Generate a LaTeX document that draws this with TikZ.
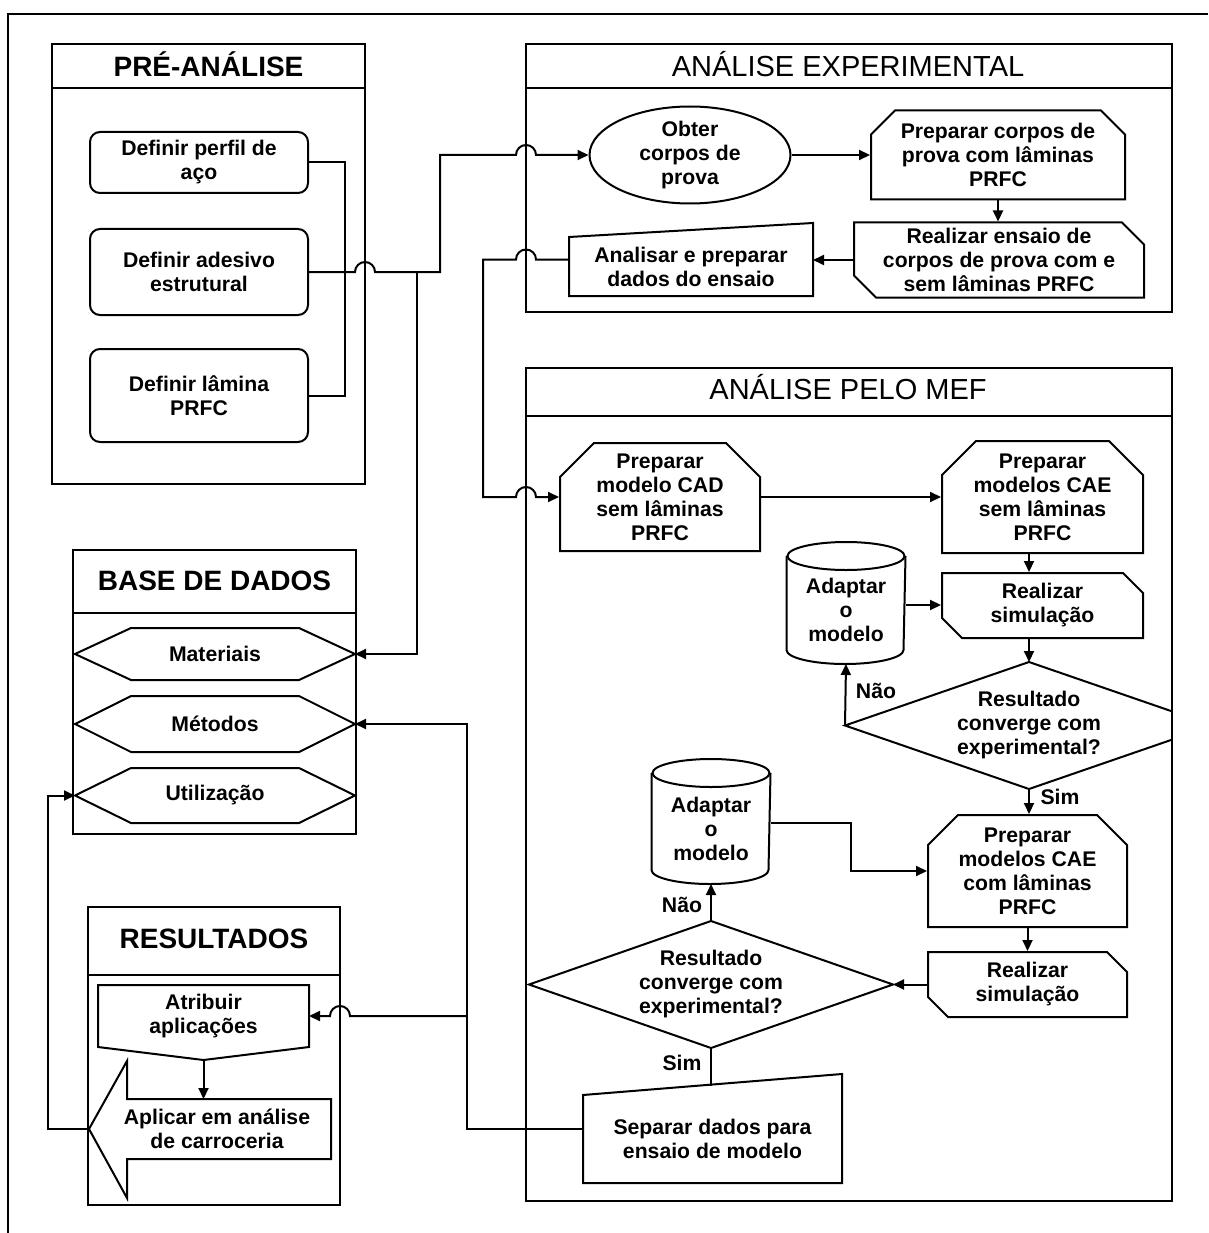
\documentclass[tikz,border=0pt]{standalone}
\usepackage{fontspec}
\setmainfont{Liberation Sans}
\usetikzlibrary{arrows.meta,shapes.misc}

\begin{document}
\begin{tikzpicture}[x=1pt,y=-1pt,line width=2pt,
  txt/.style={font=\bfseries\fontsize{21.2}{24}\selectfont,align=center,inner sep=0pt},
  ttl/.style={font=\fontsize{29}{32}\selectfont,anchor=base},
  panel/.style={draw,inner sep=0pt},
  proc/.style={txt,draw,rounded corners=10pt},
  prep/.style={txt,draw,chamfered rectangle,chamfered rectangle corners={north west,north east},chamfered rectangle sep=#1,inner ysep=-#1},
  run/.style={txt,draw,chamfered rectangle,chamfered rectangle corners={north east,south west},chamfered rectangle sep=#1,inner ysep=-#1},
  arr/.style={-{Triangle[length=11pt,width=10pt]}}]
\useasboundingbox (0,0) rectangle (1208,1233);
\draw (8,1233) -- (8,14) -- (1208,14);

\node[panel,minimum width=313,minimum height=440] (pre) at (208.5,264) {};
\node[panel,minimum width=646,minimum height=268] (exp) at (849,178) {};
\node[panel,minimum width=646,minimum height=833] (mef) at (849,784.5) {};
\node[panel,minimum width=283,minimum height=284] (base) at (214.5,692) {};
\node[panel,minimum width=252,minimum height=298] (res) at (214,1056) {};
\draw ([yshift=-45pt]pre.north west) -- ([yshift=-45pt]pre.north east);
\draw ([yshift=-45pt]exp.north west) -- ([yshift=-45pt]exp.north east);
\draw ([yshift=-49pt]mef.north west) -- ([yshift=-49pt]mef.north east);
\draw ([yshift=-64pt]base.north west) -- ([yshift=-64pt]base.north east);
\draw ([yshift=-69pt]res.north west) -- ([yshift=-69pt]res.north east);
\node[ttl,font=\bfseries\fontsize{28}{32}\selectfont] (preT) at (208.5,77) {PRÉ-ANÁLISE};
\node[ttl] (expT) at (848,77) {ANÁLISE EXPERIMENTAL};
\node[ttl] (mefT) at (848,399) {ANÁLISE PELO MEF};
\node[ttl,font=\bfseries\fontsize{28}{32}\selectfont] (baseT) at (214.5,590) {BASE DE DADOS};
\node[ttl,font=\bfseries\fontsize{28}{32}\selectfont] (resT) at (214,948) {RESULTADOS};

\node[proc,minimum width=218,minimum height=61] (perfil) at (199,162.5) {Definir perfil de\\aço};
\node[proc,minimum width=218,minimum height=86] (adesivo) at (199,272) {Definir adesivo\\estrutural};
\node[proc,minimum width=218,minimum height=93] (lamina) at (199,395.5) {Definir lâmina\\PRFC};

\node[txt,minimum width=201,minimum height=97] (obter) at (690,155) {Obter\\corpos de\\prova};
\draw (obter.center) ellipse[x radius=100.5pt,y radius=48.5pt];
\node[prep=12pt,minimum width=254,minimum height=89] (corpos) at (998,155) {Preparar corpos de\\prova com lâminas\\PRFC};
\node[run=11pt,minimum width=290,minimum height=75] (ensaio) at (999,260) {Realizar ensaio de\\corpos de prova com e\\sem lâminas PRFC};
\node[txt,minimum width=242,minimum height=57] (analisar) at (691,266.5) {Analisar e preparar\\dados do ensaio};
\draw (analisar.south west) -- (analisar.north west) -- ([yshift=14pt]analisar.north east) -- (analisar.south east) -- cycle;

\node[prep=17pt,minimum width=200,minimum height=108] (cad) at (660,497) {Preparar\\modelo CAD\\sem lâminas\\PRFC};
\node[prep=17pt,minimum width=201,minimum height=112] (caesem) at (1042.5,497) {Preparar\\modelos CAE\\sem lâminas\\PRFC};
\node[run=10pt,minimum width=201,minimum height=65] (sim1) at (1042.5,605.5) {Realizar\\simulação};
\node[txt,minimum width=117,minimum height=106] (ad1) at (846,610) {Adaptar\\o\\modelo};
\node[txt,minimum width=366,minimum height=125] (d1) at (1029,725.5) {Resultado\\converge com\\experimental?};
\node[txt,minimum width=117,minimum height=109] (ad2) at (711,828.5) {Adaptar\\o\\modelo};
\node[prep=15pt,minimum width=199,minimum height=112] (caecom) at (1027.5,871) {Preparar\\modelos CAE\\com lâminas\\PRFC};
\node[run=10pt,minimum width=199,minimum height=65] (sim2) at (1027.5,984.5) {Realizar\\simulação};
\node[txt,minimum width=362,minimum height=125] (d2) at (711,984.5) {Resultado\\converge com\\experimental?};
\node[txt,minimum width=257,minimum height=86] (separar) at (712.5,1139) {Separar dados para\\ensaio de modelo};
\draw (separar.south west) -- (separar.north west) -- ([yshift=21pt]separar.north east) -- (separar.south east) -- cycle;
\coordinate (septop) at (711,1086);
\node[txt] (nao1) at (876,691) {Não};
\node[txt] (sim1l) at (1060,797) {Sim};
\node[txt] (nao2) at (682,905) {Não};
\node[txt] (sim2l) at (682,1063) {Sim};

\begin{scope}
\clip (0,0) rectangle (1172,1233);
\draw (d1.north) -- (d1.west) -- (d1.south) -- (d1.east) -- cycle;
\end{scope}
\draw (d2.north) -- (d2.west) -- (d2.south) -- (d2.east) -- cycle;
\foreach \c in {ad1,ad2} {
  \draw (\c.north west) -- ([yshift=14pt]\c.south west) arc[start angle=180,end angle=360,x radius=58.5pt,y radius=14pt] -- (\c.north east);
  \draw (\c.north) ellipse[x radius=58.5pt,y radius=14pt];
}

\node[txt,minimum width=278,minimum height=50] (mat) at (215,654) {Materiais};
\node[txt,minimum width=278,minimum height=54] (met) at (215,724) {Métodos};
\node[txt,minimum width=278,minimum height=53] (util) at (215,795.5) {Utilização};
\foreach \h in {mat,met,util}
  \draw (\h.west) -- ([xshift=56pt]\h.north west) -- ([xshift=-56pt]\h.north east) -- (\h.east) -- ([xshift=-56pt]\h.south east) -- ([xshift=56pt]\h.south west) -- cycle;

\node[txt,minimum width=209,minimum height=60] (atrib) at (203.5,1016) {Atribuir\\aplicações};
\draw (atrib.south west) -- (atrib.north west) -- (atrib.north east) -- (atrib.south east) -- ([yshift=-13pt]atrib.south) -- cycle;
\node[txt,minimum width=226,minimum height=58] (aplic) at (217,1129) {Aplicar em análise\\de carroceria};
\draw ([xshift=-14pt]aplic.west) -- ([xshift=24pt,yshift=38pt]aplic.north west) -- ([xshift=24pt]aplic.north west) -- (aplic.north east) -- (aplic.south east) -- ([xshift=24pt]aplic.south west) -- ([xshift=24pt,yshift=-39pt]aplic.south west) -- cycle;

\draw (perfil.east) -- ++(36,0) |- (lamina.east);
\draw[arr] (adesivo.east) -- (355,272) arc[start angle=180,end angle=0,radius=10pt] -- (440,272) -- (440,155) -- (516,155) arc[start angle=180,end angle=0,radius=10pt] -- (obter.west);
\draw[arr] (417,272) |- (mat.east);
\draw[arr] (obter.east) -- (corpos.west);
\draw[arr] (corpos.south) -- (corpos.south |- ensaio.north);
\draw[arr] (ensaio.west) -- (ensaio.west -| analisar.east);
\draw[arr] ([yshift=7pt]analisar.west) -- (536,259.5) arc[start angle=0,end angle=180,radius=10pt] -- (483,259.5) |- (516,497) arc[start angle=180,end angle=0,radius=10pt] -- (cad.west);
\draw[arr] (cad.east) -- (caesem.west);
\draw[arr] (d1.north |- caesem.south) -- (d1.north |- sim1.north);
\draw[arr] ([yshift=5pt]ad1.east) -- ([yshift=5pt]ad1.east -| sim1.west);
\draw[arr] (d1.north |- sim1.south) -- (d1.north);
\draw[arr] (d1.west) -- (ad1.south);
\draw[arr] (d1.south) -- (d1.south |- caecom.north);
\draw[arr] ([yshift=6pt]ad2.east) -- ++(80,0) |- (caecom.west);
\draw[arr] (caecom.south) -- (sim2.north);
\draw[arr] (sim2.west) -- (d2.east);
\draw[arr] (d2.north) -- (ad2.south);
\draw (d2.south) -- (septop);
\draw[arr] ([yshift=10pt]separar.west) -- (467,1129) |- (met.east);
\draw[arr] (467,1016) -- (350,1016) arc[start angle=0,end angle=180,radius=10pt] -- (atrib.east);
\draw[arr] ([yshift=-13pt]atrib.south) -- (atrib.south |- aplic.north);
\draw[arr] ([xshift=-14pt]aplic.west) -- (48,1129) |- (util.west);
\end{tikzpicture}
\end{document}
